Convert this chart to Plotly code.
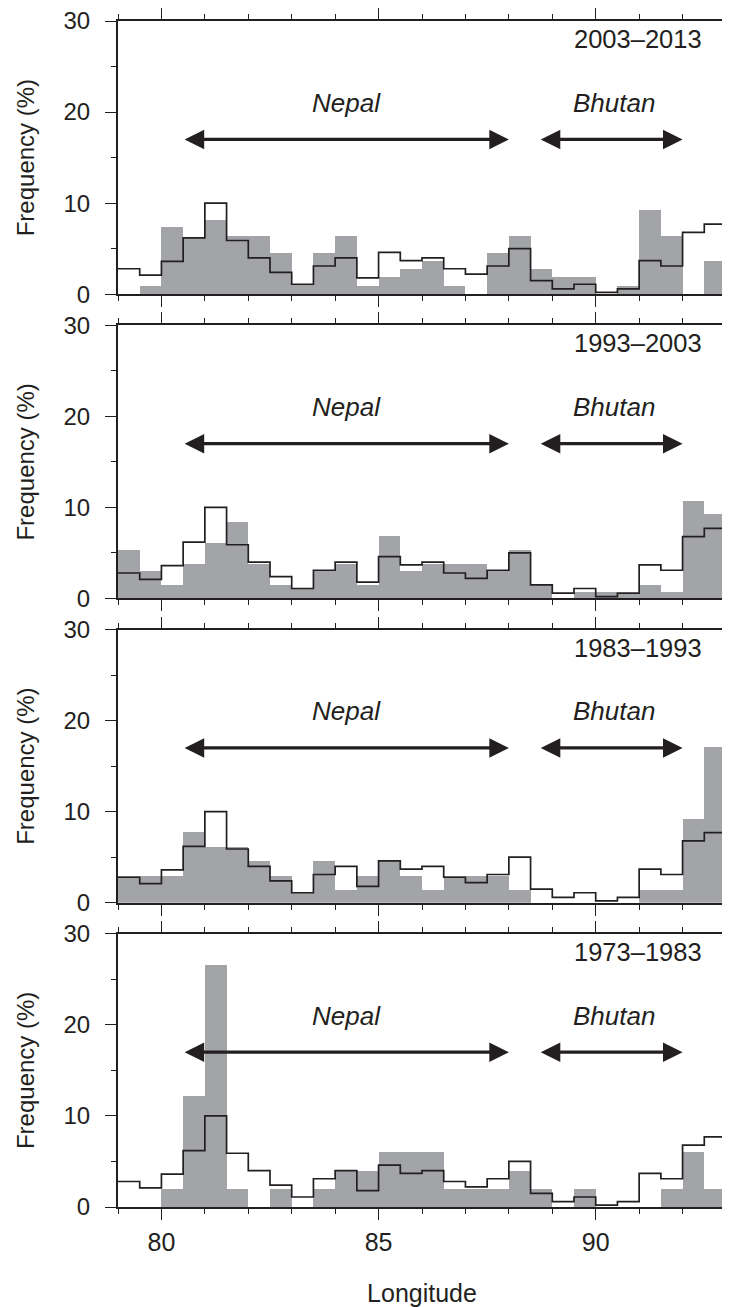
import plotly.graph_objects as go
from plotly.subplots import make_subplots

# ---- data ----
bin_left = [79.0, 79.5, 80.0, 80.5, 81.0, 81.5, 82.0, 82.5, 83.0, 83.5,
            84.0, 84.5, 85.0, 85.5, 86.0, 86.5, 87.0, 87.5, 88.0, 88.5,
            89.0, 89.5, 90.0, 90.5, 91.0, 91.5, 92.0, 92.5]
bin_width = 0.5
x_end = 93.0

# whole-period frequency (%), drawn as the black step outline in every panel
all_years = [2.8, 2.1, 3.6, 6.2, 10.0, 5.9, 4.0, 2.4, 1.1, 3.1,
             4.0, 1.8, 4.6, 3.7, 4.0, 2.8, 2.2, 3.1, 5.0, 1.5,
             0.6, 1.1, 0.2, 0.6, 3.7, 3.1, 6.8, 7.7]

p2003_2013 = [0.0, 0.9, 7.4, 6.3, 8.2, 6.4, 6.4, 4.5, 1.0, 4.5,
              6.4, 0.9, 1.9, 2.8, 3.7, 0.9, 0.0, 4.5, 6.4, 2.8,
              1.9, 1.9, 0.0, 0.9, 9.2, 6.4, 0.0, 3.6]
p1993_2003 = [5.3, 3.0, 1.5, 3.8, 6.1, 8.4, 3.8, 1.5, 1.1, 3.0,
              3.8, 1.5, 6.8, 3.0, 3.8, 3.8, 3.8, 3.0, 5.3, 1.5,
              0.0, 0.7, 0.7, 0.6, 1.5, 0.7, 10.7, 9.2]
p1983_1993 = [3.0, 3.0, 3.0, 7.8, 6.2, 6.2, 4.6, 3.0, 1.1, 4.6,
              1.5, 3.0, 4.6, 3.0, 1.5, 3.0, 3.0, 3.0, 1.5, 0.0,
              0.0, 0.0, 0.0, 0.0, 1.5, 1.5, 9.3, 17.2]
p1973_1983 = [0.0, 0.0, 2.0, 12.2, 26.6, 2.0, 0.0, 2.0, 0.0, 2.0,
              4.0, 4.0, 6.1, 6.1, 6.1, 2.0, 2.0, 2.0, 4.0, 2.0,
              0.0, 2.0, 0.0, 0.0, 0.0, 2.0, 6.1, 2.0]

period_labels = ["2003–2013", "1993–2003", "1983–1993", "1973–1983"]
period_values = [p2003_2013, p1993_2003, p1983_1993, p1973_1983]

regions = ["Nepal", "Bhutan"]
region_start = [80.5, 88.7]
region_end = [88.0, 92.0]
region_label_x = [84.27, 90.41]
arrow_y = 17
region_label_y = 21
period_label_x = 92.5
period_label_y = 28

# ---- style ----
INK = "#231f20"
GRAY = "#a3a4a8"
FONT = "Liberation Sans, Arial, Helvetica, sans-serif"

centers = [b + bin_width / 2 for b in bin_left]
step_x = bin_left + [x_end]
step_y = all_years + [all_years[-1]]

fig = make_subplots(rows=4, cols=1, vertical_spacing=0.02614)

annotations = []
for i, (lab, vals) in enumerate(zip(period_labels, period_values)):
    r = i + 1
    fig.add_trace(go.Bar(x=centers, y=vals, width=bin_width,
                         marker=dict(color=GRAY, line=dict(width=0)),
                         showlegend=False, hoverinfo="skip"), row=r, col=1)
    fig.add_trace(go.Scatter(x=step_x, y=step_y, mode="lines",
                             line=dict(color=INK, width=1.7, shape="hv"),
                             showlegend=False, hoverinfo="skip"), row=r, col=1)
    xr = "x" if r == 1 else f"x{r}"
    yr = "y" if r == 1 else f"y{r}"
    annotations.append(dict(x=period_label_x, y=period_label_y, xref=xr, yref=yr,
                            text=lab, showarrow=False, xanchor="right", yanchor="middle",
                            font=dict(family=FONT, size=25.5, color=INK)))
    for name, s, e, lx in zip(regions, region_start, region_end, region_label_x):
        annotations.append(dict(x=lx, y=region_label_y, xref=xr, yref=yr,
                                text=f"<i>{name}</i>", showarrow=False,
                                xanchor="center", yanchor="middle",
                                font=dict(family=FONT, size=26, color=INK)))
        annotations.append(dict(x=e, y=arrow_y, ax=s, ay=arrow_y,
                                xref=xr, yref=yr, axref=xr, ayref=yr,
                                text="", showarrow=True,
                                arrowhead=2, startarrowhead=2, arrowside="end+start",
                                arrowwidth=3.4, arrowsize=1.15, startarrowsize=1.15,
                                arrowcolor=INK))

    fig.update_xaxes(range=[79, 93], dtick=5, tick0=0, automargin=False,
                     showline=True, linewidth=2, linecolor=INK, mirror="allticks",
                     ticks="outside", ticklen=11, tickwidth=1.2, tickcolor=INK,
                     minor=dict(dtick=1, ticks="outside", ticklen=5, tickwidth=1.2, tickcolor=INK),
                     showgrid=False, zeroline=False, ticklabeloverflow="allow",
                     showticklabels=(r == 4), ticklabelstandoff=1,
                     tickfont=dict(family=FONT, size=25, color=INK),
                     row=r, col=1)
    fig.update_yaxes(range=[0, 30], dtick=10, automargin=False,
                     showline=True, linewidth=2, linecolor=INK, mirror="allticks",
                     ticks="outside", ticklen=11, tickwidth=1.2, tickcolor=INK,
                     minor=dict(dtick=5, ticks="outside", ticklen=5, tickwidth=1.2, tickcolor=INK),
                     showgrid=False, zeroline=False, ticklabelstandoff=10,
                     ticklabeloverflow="allow",
                     tickfont=dict(family=FONT, size=24, color=INK),
                     title=dict(text="Frequency (%)", standoff=22.5,
                                font=dict(family=FONT, size=24, color=INK)),
                     row=r, col=1)

fig.update_xaxes(title=dict(text="Longitude", standoff=29,
                            font=dict(family=FONT, size=25, color=INK)), row=4, col=1)

# page body has an 8px default margin, so the figure is sized to the remaining area
fig.update_layout(width=722, height=1299,
                  margin=dict(l=110, r=4, t=13, b=100),
                  paper_bgcolor="white", plot_bgcolor="white",
                  bargap=0, barmode="overlay",
                  annotations=annotations,
                  font=dict(family=FONT, color=INK))

fig.write_html("out.html")
